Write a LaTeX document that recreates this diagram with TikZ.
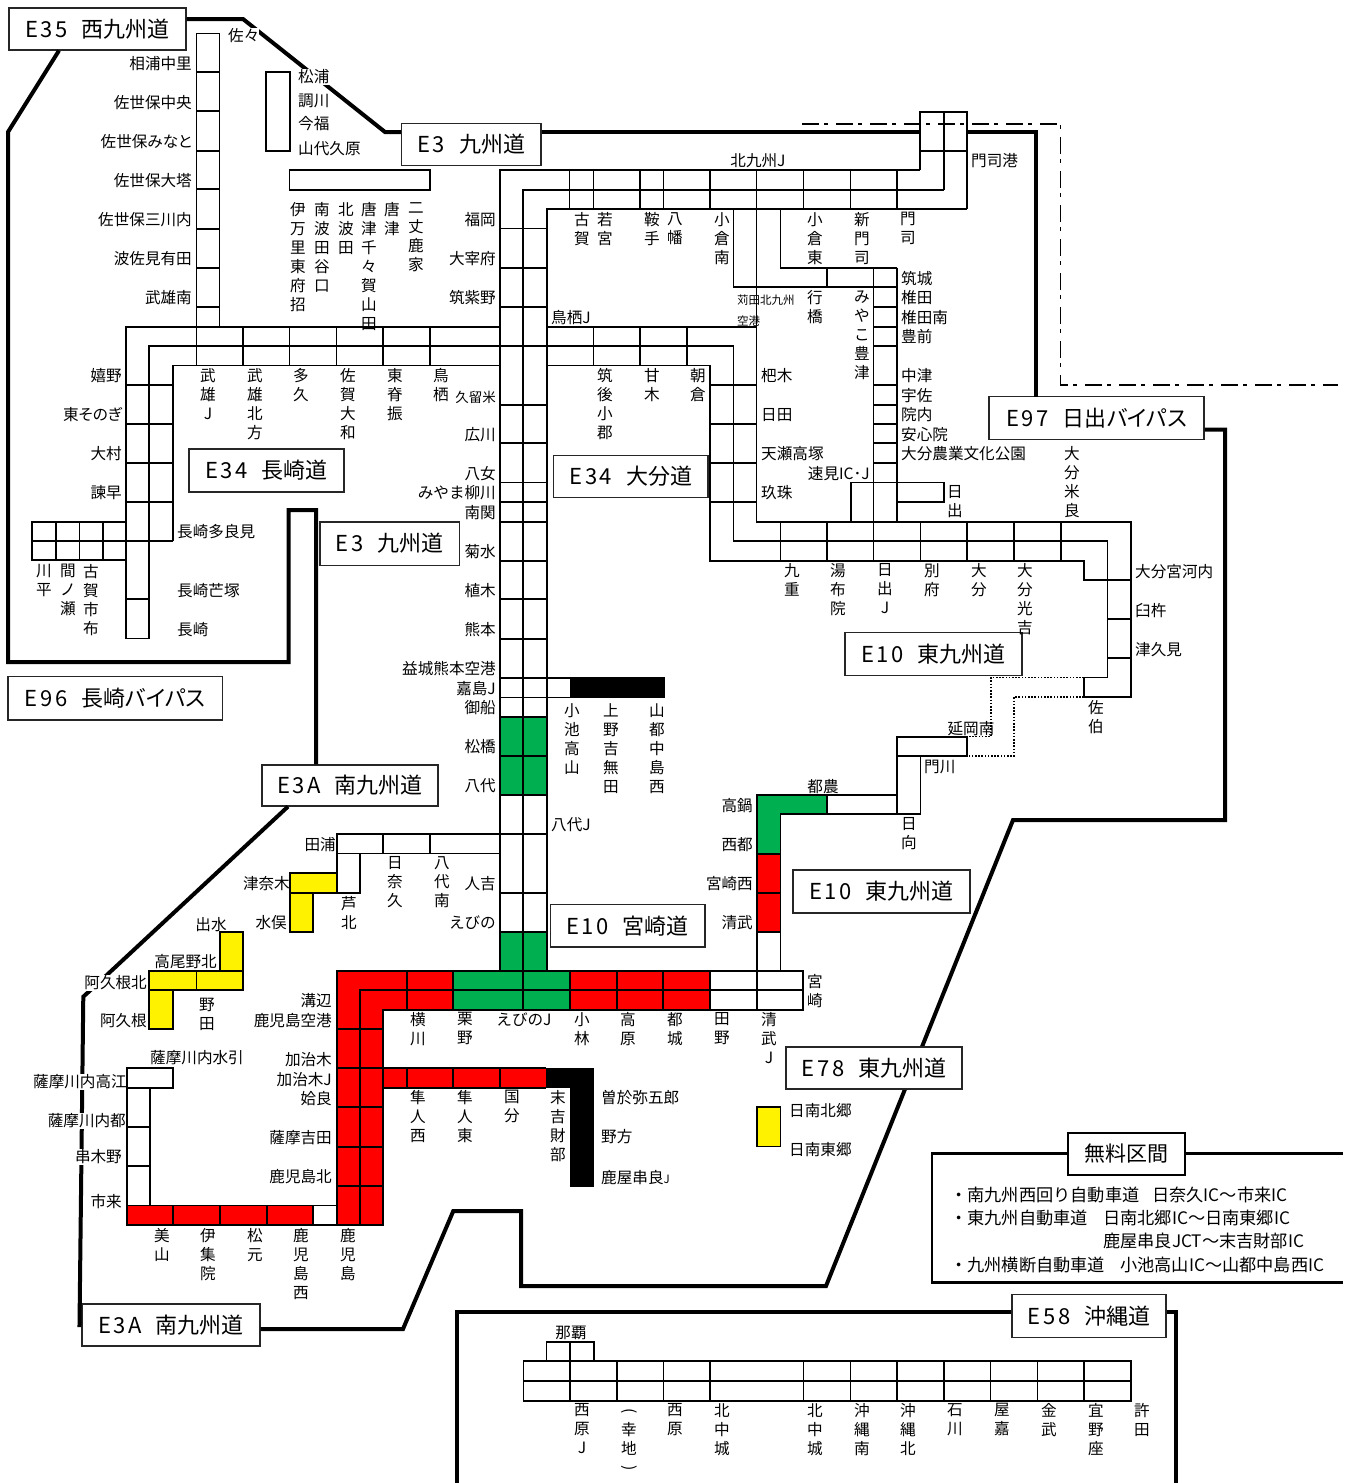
\documentclass[tikz,border=0pt]{standalone}
\usepackage{fontspec}
\setmainfont{Noto Sans CJK JP}
\newcommand{\lblfont}{\fontsize{15.6}{19}\selectfont}
\newcommand{\tinyfont}{\fontsize{11.5}{14}\selectfont}
\newcommand{\boxfont}{\fontsize{22}{24}\selectfont}
\newcommand{\freefont}{\fontsize{17.2}{20}\selectfont}
\newcommand{\rcode}[1]{{\addfontfeature{LetterSpace=12}#1}\hspace{14pt}}
\newcommand{\pk}[1]{{\addfontfeature{RawFeature=+palt}#1}}
\newcommand{\archtop}{\rule{0pt}{13pt}\rotatebox[origin=c]{-90}{(}}
\newcommand{\archbot}{\rotatebox[origin=c]{-90}{)}}
\definecolor{secgreen}{HTML}{00B050}

\begin{document}
\begin{tikzpicture}[x=1pt,y=-1pt,
    road/.style={line width=1.7pt, black},
    route/.style={line width=4pt, black, line join=miter},
    dotroad/.style={line width=1.5pt, black, dash pattern=on 1.6pt off 1.6pt},
    dashroad/.style={line width=1.5pt, black, dash pattern=on 17pt off 5pt on 4pt off 8pt},
    rbox/.style={draw=black!85, line width=1.1pt, fill=white, inner sep=0pt, font=\boxfont},
    lbe/.style={anchor=east, inner sep=0pt, yshift=-1pt, text height=13.2pt, text depth=2.4pt, font=\lblfont},
    lbw/.style={anchor=west, inner sep=0pt, yshift=-1pt, text height=13.2pt, text depth=2.4pt, font=\lblfont},
    lbc/.style={inner sep=0pt, yshift=-1pt, text height=13.2pt, text depth=2.4pt, font=\lblfont},
    lbv/.style={anchor=north, inner sep=0pt, yshift=6.9pt, align=center, font=\lblfont},
    blank/.style={fill=white}
]
    \useasboundingbox (0,0) rectangle (1347,1483);

    % road name boxes
    \node[rbox, minimum width=177pt, minimum height=42pt] (e35) at (97.5,29) {\rcode{E35}西九州道};
    \node[rbox, minimum width=139.6pt, minimum height=42.5pt] (e3a) at (471.2,144.3) {\rcode{E3}九州道};
    \node[rbox, minimum width=215pt, minimum height=42.5pt] (e97) at (1096.5,418) {\rcode{E97}日出\pk{バイパス}};
    \node[rbox, minimum width=155pt, minimum height=43pt] (e34n) at (266.5,470.5) {\rcode{E34}長崎道};
    \node[rbox, minimum width=154.4pt, minimum height=42.7pt] (e34o) at (630.8,476.4) {\rcode{E34}大分道};
    \node[rbox, minimum width=139.6pt, minimum height=43.3pt] (e3b) at (389.8,543.6) {\rcode{E3}九州道};
    \node[rbox, minimum width=214.5pt, minimum height=43.3pt] (e96) at (115.2,698.3) {\rcode{E96}長崎\pk{バイパス}};
    \node[rbox, minimum width=176pt, minimum height=41pt] (e3c) at (350,785.5) {\rcode{E3A}南九州道};
    \node[rbox, minimum width=177pt, minimum height=43pt] (e10a) at (933.5,654.2) {\rcode{E10}東九州道};
    \node[rbox, minimum width=154.7pt, minimum height=42.4pt] (e10m) at (627.6,925.8) {\rcode{E10}宮崎道};
    \node[rbox, minimum width=177pt, minimum height=43pt] (e10b) at (881.5,891.5) {\rcode{E10}東九州道};
    \node[rbox, minimum width=178pt, minimum height=42pt] (e3d) at (171,1325) {\rcode{E3A}南九州道};
    \node[rbox, minimum width=154pt, minimum height=43pt] (e58) at (1089,1316) {\rcode{E58}沖縄道};

    % thick outlines
    \draw[route] ([yshift=10pt]e35.east) -- (243,19) -- (385,132) -- ([yshift=12.3pt]e3a.west);
    \draw[route] ([yshift=12.3pt]e3a.east) -- (1036,132) -- (1036,397);
    \draw[route] ([xshift=-38.5pt]e35.south) -- (8,132) -- (8,662) -- (288.5,662) -- (288.5,510) -- (316,510) -- ([xshift=-34pt]e3c.north);
    \draw[route] ([xshift=-62pt]e3c.south) -- (95,986) -- (83.3,996.7) -- (79.5,1325) -- (e3d.west);
    \draw[route] ([yshift=-4pt]e3d.east) -- (403,1329) -- (453.3,1211) -- (521,1211) -- (521,1286) -- (826,1286) -- (1013,820) -- (1225,820) -- (1225,429.5) -- ([yshift=-11.5pt]e97.east);
    \draw[route] (457,1483) -- (457,1312) -- ([yshift=4pt]e58.west);
    \draw[route] ([yshift=4pt]e58.east) -- (1176,1312) -- (1176,1483);
    \node[rbox, minimum width=176pt, minimum height=42pt] (e78) at (874,1068) {\rcode{E78}東九州道};

    % labels sitting on the thick lines
    \foreach \px/\py/\lbl [count=\i] in {147/982/阿久根北, 127/1081/薩摩川内高江, 126/1120/薩摩川内都, 122/1156/串木野}
        \node[lbe, blank] (cut\i) at (\px,\py) {\lbl};
    \foreach \px/\py/\lbl [count=\i] in {228/35/佐々, 298/76/松浦}
        \node[lbw, blank] (cutw\i) at (\px,\py) {\lbl};

    % section colours
    \fill[white] (920,111.7) rectangle (967,150.7);
    \fill[secgreen] (500,717) rectangle (547,795);
    \fill[secgreen] (500,931.8) rectangle (547,970.7);
    \fill[secgreen] (453.3,970.7) rectangle (570,1010);
    \fill[secgreen] (757,795) rectangle (827,814.3);
    \fill[secgreen] (757,814.3) rectangle (780.4,853.7);
    \fill[red] (757,853.7) rectangle (780.4,931.8);
    \fill[red] (570,970.7) rectangle (710,1010);
    \fill[red] (336.7,970.7) rectangle (453.3,1010);
    \fill[red] (336.7,1010) rectangle (383.3,1225);
    \fill[red] (383.3,1068.3) rectangle (546,1088);
    \fill[red] (126.7,1205.5) rectangle (313.3,1225);
    \fill[black] (546,1068.3) rectangle (593.5,1088);
    \fill[black] (570,1088) rectangle (593.5,1186.5);
    \fill[black] (570,678) rectangle (663.7,697.4);
    \fill[yellow] (290,873.3) rectangle (336.7,892.8);
    \fill[yellow] (290,892.8) rectangle (313.3,932);
    \fill[yellow] (220,932) rectangle (243,970.7);
    \fill[yellow] (149.3,970.7) rectangle (243,990.2);
    \fill[yellow] (149.3,990.2) rectangle (173.3,1029.3);
    \fill[yellow] (757,1107) rectangle (780.4,1146.5);

    % west coast and Nagasaki
    \draw[road] (196.4,33.5) rectangle (219.6,326.7);
    \foreach \py in {72.3,111.3,150.7,189.3,228.7,267.7,306.7}
        \draw[road] (196.4,\py) -- (219.6,\py);
    \draw[road] (266,72.3) rectangle (290,150.7);
    \draw[road] (289.5,170.3) rectangle (430,190);
    \draw[road] (500,326.7) -- (126,326.7) -- (126,638.5) -- (149,638.5) -- (149,346) -- (500,346);
    \draw[road] (500,365.5) -- (173,365.5) -- (173,540.8);
    \foreach \px in {196.4,243,289.5,336.4,383,430}
        \draw[road] (\px,326.7) -- (\px,365.5);
    \foreach \py in {385,424,462.7,502.2}
        \draw[road] (126,\py) -- (173,\py);
    \draw[road] (126,599.3) -- (149,599.3);
    \draw[road] (173,540.8) -- (32,540.8);
    \draw[road] (126,521.7) -- (32,521.7) -- (32,560.2) -- (126,560.2);
    \foreach \px in {56,79.6,103}
        \draw[road] (\px,521.7) -- (\px,560.2);

    % Kyushu main line
    \draw[road] (500,970.7) -- (500,170) -- (920,170);
    \draw[road] (523.3,970.7) -- (523.3,189.7) -- (944,189.7);
    \draw[road] (547,970.7) -- (547,209) -- (967,209);
    \draw[road] (920,170) -- (920,111.7) -- (967,111.7) -- (967,209);
    \draw[road] (944,189.7) -- (944,111.7);
    \draw[road] (920,150.7) -- (967,150.7);
    \foreach \px in {569.6,593.6,640,663.6,710,803.6,850.4,897}
        \draw[road] (\px,170) -- (\px,209);
    \foreach \py in {228.5,267.7,306.7,346,404.7,443.3,482.6,502,521.7,560.7,599.3,639,677.8,697.4,717,755.8,795,834.2,892.8,931.8}
        \draw[road] (500,\py) -- (547,\py);

    % Kokura branch and east coast
    \draw[road] (733.6,209) -- (733.6,287.3) -- (897,287.3);
    \draw[road] (756.4,170) -- (756.4,521.7);
    \draw[road] (780.4,209) -- (780.4,267.7) -- (897,267.7);
    \draw[road] (826.8,267.7) -- (826.8,287.3);
    \draw[road] (873.6,267.7) -- (873.6,521.7);
    \draw[road] (897,267.7) -- (897,521.7);
    \foreach \py in {306.7,326.7,346,385,404.7,424,443.3,462.7}
        \draw[road] (873.6,\py) -- (897,\py);
    \draw[road] (851,521.7) -- (851,482.6) -- (944,482.6) -- (944,502) -- (897,502);

    % Oita road
    \draw[road] (547,326.7) -- (756.4,326.7);
    \draw[road] (547,365.5) -- (710,365.5) -- (710,560.7) -- (1084,560.7) -- (1084,580) -- (1131,580);
    \draw[road] (547,346) -- (733.6,346) -- (733.6,541.2) -- (1107.5,541.2) -- (1107.5,677.4) -- (1084,677.4) -- (1084,697) -- (1131,697) -- (1131,521.7) -- (756.4,521.7);
    \foreach \px in {593.6,640,686.8}
        \draw[road] (\px,326.7) -- (\px,365.5);
    \foreach \py in {385,424,462.7,502}
        \draw[road] (710,\py) -- (756.4,\py);
    \foreach \px in {780.4,826.8,873.6,920.6,967,1014,1061}
        \draw[road] (\px,521.7) -- (\px,560.7);
    \foreach \py in {619.3,658.3}
        \draw[road] (1107.5,\py) -- (1131,\py);
    \draw[dotroad] (1084,677.4) -- (991,677.4) -- (991,736.7) -- (967,736.7);
    \draw[dotroad] (1084,697) -- (1014,697) -- (1014,756) -- (967,756);

    % Nobeoka to Miyazaki
    \draw[road] (897,736.7) rectangle (967,756);
    \draw[road] (897,736.7) -- (897,795) -- (757,795) -- (757,970.7);
    \draw[road] (920.6,756) -- (920.6,814.3) -- (780.4,814.3) -- (780.4,970.7);
    \draw[road] (897,795) -- (897,814.3);
    \draw[road] (827,795) -- (827,814.3);
    \foreach \py in {853.7,892.8,931.8}
        \draw[road] (757,\py) -- (780.4,\py);

    % Kojima line
    \draw[road] (547,678) -- (663.7,678) -- (663.7,697.4) -- (547,697.4);

    % Yatsushiro and Minamata
    \draw[road] (500,834.2) -- (336.7,834.2) -- (336.7,892.8);
    \draw[road] (500,853.4) -- (336.7,853.4);
    \draw[road] (383.3,834.2) -- (383.3,853.4);
    \draw[road] (430,834.2) -- (430,853.4);
    \draw[road] (360,853.4) -- (360,892.8) -- (290,892.8);
    \draw[road] (336.7,873.3) -- (290,873.3) -- (290,932) -- (313.3,932) -- (313.3,892.8);
    \draw[road] (220,970.7) -- (220,932) -- (243,932) -- (243,990.2) -- (149.3,990.2);
    \draw[road] (243,970.7) -- (149.3,970.7) -- (149.3,1029.3) -- (173.3,1029.3) -- (173.3,990.2);
    \draw[road] (196.4,970.7) -- (196.4,990.2);

    % southern line
    \draw[road] (803.3,970.7) -- (336.7,970.7) -- (336.7,1225) -- (383.3,1225) -- (383.3,1010) -- (803.3,1010) -- cycle;
    \draw[road] (360,1225) -- (360,990.2) -- (803.3,990.2);
    \foreach \px in {406.7,453.3,523.3,570,616.7,663.3,710,756.7}
        \draw[road] (\px,970.7) -- (\px,1010);
    \foreach \py in {1029.3,1068.3,1107,1146.7,1185.7}
        \draw[road] (336.7,\py) -- (383.3,\py);
    \draw[road] (383.3,1068.3) -- (546,1068.3);
    \draw[road] (383.3,1088) -- (546,1088);
    \foreach \px in {406.7,453.3,500}
        \draw[road] (\px,1068.3) -- (\px,1088);
    \draw[road] (757,1107) rectangle (780.4,1146.5);

    % Satsuma line
    \draw[road] (336.7,1205.5) -- (126.7,1205.5) -- (126.7,1225) -- (336.7,1225);
    \foreach \px in {173.3,220,266.7,313.3}
        \draw[road] (\px,1205.5) -- (\px,1225);
    \draw[road] (126.7,1205.5) -- (126.7,1068.3) -- (173.3,1068.3) -- (173.3,1088) -- (126.7,1088);
    \draw[road] (150,1088) -- (150,1205.5);
    \foreach \py in {1126.7,1166}
        \draw[road] (126.7,\py) -- (150,\py);

    % Okinawa
    \draw[road] (523.4,1361.3) rectangle (1130.7,1400.7);
    \draw[road] (523.4,1380.8) -- (1130.7,1380.8);
    \draw[road] (546.6,1361.3) -- (546.6,1341.7) -- (593.7,1341.7) -- (593.7,1361.3);
    \draw[road] (570,1341.7) -- (570,1400.7);
    \foreach \px in {616.9,663.5,710,803.6,850.5,897,944,990.6,1037.4,1084}
        \draw[road] (\px,1361.3) -- (\px,1400.7);

    % Kitakyushu line over the grid
    \draw[dashroad] (802,124) -- (1060.7,124) -- (1060.7,385) -- (1338,385);

    % labels, right aligned
    \foreach \px/\py/\lbl [count=\i] in {192/63/相浦中里, 192/102/佐世保中央, 192/141/佐世保\pk{みなと}, 192/180/佐世保大塔, 192/219/佐世保三川内, 192/258/波佐見有田, 192/297/武雄南,
        496/219/福岡, 496/258/大宰府, 496/297/筑紫野, 496/434/広川, 496/473/八女, 496/492/みやま柳川, 496/512/南関, 496/551/菊水, 496/590/植木, 496/629/熊本, 496/668/益城熊本空港, 496/688/嘉島J, 496/707/御船, 496/746/松橋, 496/785/八代, 496/883/人吉, 496/922/えびの,
        122/375/嬉野, 122/414/東\pk{そのぎ}, 122/453/大村, 122/492/諫早,
        870/473/速見IC･J, 753/805/高鍋, 753/844/西都, 753/883/宮崎西, 753/922/清武,
        332/1000/溝辺, 332/1020/鹿児島空港, 332/1059/加治木, 332/1079/加治木J, 332/1098/姶良, 332/1137/薩摩吉田, 332/1176/鹿児島北,
        336/844/田浦, 290/883/津奈木, 287/922/水俣, 217/961/高尾野北, 147/1020/阿久根, 122/1201/市来}
        \node[lbe] (lbe\i) at (\px,\py) {\lbl};
    \node[lbe, font=\fontsize{13.5}{16}\selectfont] (kurume) at (496,396) {久留米};

    % labels, left aligned
    \foreach \px/\py/\lbl [count=\i] in {298/100/調川, 298/123/今福, 298/148/山代久原,
        551/317/鳥栖J, 551/824/八代J, 971/160/門司港,
        901/278/筑城, 901/297/椎田, 901/317/椎田南, 901/336/豊前, 901/375/中津, 901/395/宇佐, 901/414/院内, 901/434/安心院, 901/453/大分農業文化公園,
        761/375/杷木, 761/414/日田, 761/453/天瀬高塚, 761/492/玖珠,
        1135/571/大分宮河内, 1135/610/臼杵, 1135/649/津久見, 924/766/門川,
        601/1097/曽於弥五郎, 601/1136/野方, 601/1177/鹿屋串良{\tinyfont J}, 789/1110/日南北郷, 789/1149/日南東郷,
        177/531/長崎多良見, 177/590/長崎芒塚, 177/629/長崎}
        \node[lbw] (lbw\i) at (\px,\py) {\lbl};
    \node[lbw, font=\tinyfont] (kanda) at (737,298) {苅田北九州};
    \node[lbw, font=\tinyfont] (kuko) at (737,319) {空港};

    % labels, centred
    \foreach \px/\py/\lbl [count=\i] in {758/160/北九州J, 971/728/延岡南, 823/786/都農, 211/924/出水, 197/1057/薩摩川内水引, 524/1019/えびのJ, 571/1332/那覇}
        \node[lbc] (lbc\i) at (\px,\py) {\lbl};

    % labels, one character per line
    \foreach \px/\py/\lbl [count=\i] in {298/209/伊\\万\\里\\東\\府\\招, 322/209/南\\波\\田\\谷\\口, 346/209/北\\波\\田, 369/209/唐\\津\\千\\々\\賀\\山\\田, 392/209/唐\\津, 416/209/二\\丈\\鹿\\家,
        582/219/古\\賀, 605/219/若\\宮, 652/219/鞍\\手, 675/219/八\\幡, 722/219/小\\倉\\南, 815/219/小\\倉\\東, 862/219/新\\門\\司, 908/219/門\\司,
        815/297/行\\橋, 862/297/み\\や\\こ\\豊\\津,
        208/375/武\\雄\\J, 255/375/武\\雄\\北\\方, 301/375/多\\久, 348/375/佐\\賀\\大\\和, 395/375/東\\脊\\振, 441/375/鳥\\栖,
        605/375/筑\\後\\小\\郡, 652/375/甘\\木, 698/375/朝\\倉,
        955/492/日\\出, 1072/453/大\\分\\米\\良,
        44/571/川\\平, 68/571/間\\ノ\\瀬, 91/571/古\\賀\\市\\布,
        792/570/九\\重, 838/570/湯\\布\\院, 885/570/日\\出\\J, 932/570/別\\府, 979/570/大\\分, 1025/570/大\\分\\光\\吉,
        1096/707/佐\\伯, 909/824/日\\向,
        572/710/小\\池\\高\\山, 611/710/上\\野\\吉\\無\\田, 657/710/山\\都\\中\\島\\西,
        395/863/日\\奈\\久, 442/863/八\\代\\南, 349/903/芦\\北, 207/1005/野\\田, 815/981/宮\\崎,
        418/1019/横\\川, 465/1019/栗\\野, 582/1019/小\\林, 628/1019/高\\原, 675/1019/都\\城, 722/1019/田\\野, 769/1019/清\\武\\J,
        418/1097/隼\\人\\西, 465/1097/隼\\人\\東, 512/1097/国\\分, 558/1097/末\\吉\\財\\部,
        162/1235/美\\山, 208/1235/伊\\集\\院, 255/1235/松\\元, 301/1235/鹿\\児\\島\\西, 348/1235/鹿\\児\\島,
        582/1410/西\\原\\J, 629/1410/\archtop\\幸\\地\\\archbot, 675/1410/西\\原, 722/1410/北\\中\\城, 815/1410/北\\中\\城, 862/1410/沖\\縄\\南, 908/1410/沖\\縄\\北, 955/1410/石\\川, 1002/1410/屋\\嘉, 1049/1410/金\\武, 1096/1410/宜\\野\\座, 1142/1410/許\\田}
        \node[lbv] (lbv\i) at (\px,\py) {\lbl};

    % free section panel
    \draw[line width=2.4pt] (1343,1153.3) -- (932,1153.3) -- (932,1282.3) -- (1343,1282.3);
    \node[draw=black, line width=2pt, fill=white, inner sep=0pt, minimum width=117pt, minimum height=42pt, font=\fontsize{21}{24}\selectfont] (free) at (1126.7,1153.8) {無料区間};
    \foreach \px/\py/\lbl [count=\i] in {950/1195/・南九州西回り自動車道, 1152/1195/日奈久IC～市来IC, 950/1218/・東九州自動車道, 1103/1218/日南北郷IC～日南東郷IC, 1103/1241/鹿屋串良JCT～末吉財部IC, 950/1265/・九州横断自動車道, 1120/1265/小池高山IC～山都中島西IC}
        \node[lbw, font=\freefont, text height=14.2pt, text depth=2.8pt] (fr\i) at (\px,\py) {\lbl};
\end{tikzpicture}
\end{document}
